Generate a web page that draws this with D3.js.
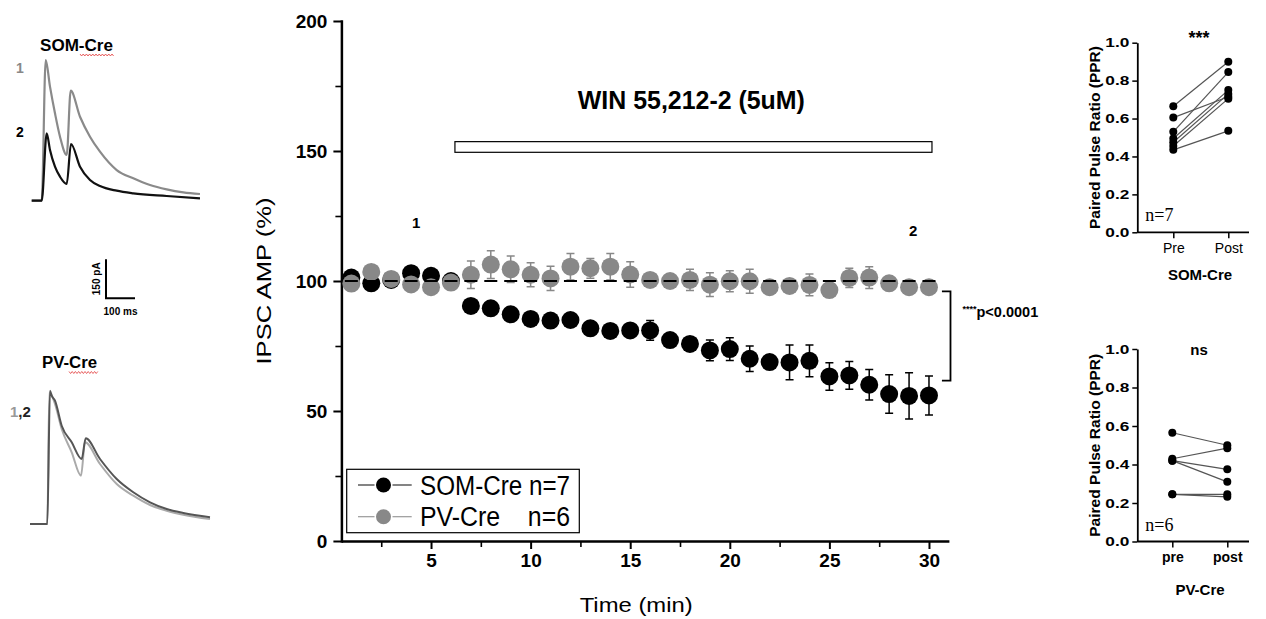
<!DOCTYPE html>
<html><head><meta charset="utf-8">
<script src="https://cdn.jsdelivr.net/npm/d3@7"></script>
<style>
body{margin:0;background:#fff;}
svg{display:block;}
</style></head><body>
<svg id="c" width="1266" height="619"></svg>
<script>
// ---------------- DATA ----------------
const minutes = [1,2,3,4,5,6,7,8,9,10,11,12,13,14,15,16,17,18,19,20,21,22,23,24,25,26,27,28,29,30];
const somMean = [101.3,99.1,100.4,103.0,102.0,100.0,90.4,89.5,87.2,85.4,84.8,85.0,81.8,80.8,81.0,81.0,77.3,75.8,73.3,73.8,70.1,68.8,68.7,69.3,63.3,63.7,60.1,56.5,55.8,56.0];
const somSem  = [1.5,1.5,1.5,1.5,1.5,1.5,1.5,1.5,1.5,1.5,1.5,2.0,1.5,1.5,2.0,3.8,1.5,1.5,4.0,4.4,4.9,2.5,6.7,6.1,5.3,5.3,5.9,7.4,8.9,7.5];
const pvMean  = [99.0,103.5,100.8,98.7,97.6,99.4,102.4,106.3,104.5,102.4,101.0,105.5,104.9,105.5,102.5,100.4,100.0,100.4,98.6,99.9,99.9,97.6,98.1,98.5,96.5,101.2,101.3,99.1,97.6,97.6];
const pvSem   = [1.5,1.5,1.5,1.5,1.5,1.5,5.3,5.3,5.1,4.6,4.7,5.1,3.8,5.1,4.9,2.0,2.0,4.1,4.6,4.0,4.6,2.0,2.0,4.2,2.0,3.7,4.2,2.0,2.0,2.0];
const seriesNames = ["SOM-Cre n=7", "PV-Cre\u00a0\u00a0\u00a0\u00a0n=6"];
const xTicks = [5,10,15,20,25,30];
const xMinorTicks = [2.5,7.5,12.5,17.5,22.5,27.5];
const yTicks = [0,50,100,150,200];
const yMinorTicks = [25,75,125,175];
const baselineLevel = [100];
const drugWindow = [6.2, 30.15];
const drugLevels = [149.5, 153.6];
const drugLabel = "WIN 55,212-2 (5uM)";
const sampleMarks = ["1", "2"];
const sampleTimes = [4.25, 29.2];
const bracketLevels = [96, 61.7];
const sigLabel = ["****", "p<0.0001"];

const pprTicks = [0, 0.2, 0.4, 0.6, 0.8, 1.0];
const somCats = ["Pre", "Post"];
const somPre  = [0.665, 0.605, 0.53, 0.495, 0.475, 0.455, 0.435];
const somPost = [0.90, 0.715, 0.845, 0.75, 0.73, 0.705, 0.535];
const pvCats = ["pre", "post"];
const pvPre  = [0.565, 0.43, 0.42, 0.42, 0.245, 0.245];
const pvPost = [0.50, 0.485, 0.375, 0.31, 0.245, 0.232];

// example traces: time (ms) and current (pA)
const somT1 = [0,34.5,48.3,63.1,80.3,97.6,120.7,134.5,166.6,201,235.5,293.1,350.3,407.9,465.5,522.8,580.3];
const somI1 = [0,0,541,438.8,336,246.2,175.8,423,323,246.2,188.5,118,86.2,60.4,43.8,32.3,25.8];
const somT2 = [0,34.5,51.7,63.1,80.3,97.6,120.7,135.5,166.6,201,235.5,293.1,350.3,465.5,580.3];
const somI2 = [0,0,259,195,131,92.3,64.2,218,130.8,79.6,56.5,38.5,28.5,18.1,9.2];
const pvT1 = [0,59.7,66.6,86.2,109.3,143.8,175.9,189.7,241.4,299,356.2,413.8,471.4,528.6,620.7];
const pvI1 = [0,0,506.5,461.5,365.4,275.8,185.8,314.2,230.8,153.8,108.8,73.1,51.2,35.8,19.2];
const pvT2 = [0,59.7,69,74.8,86.2,109.3,143.8,178.3,192.1,241.4,299,356.2,413.8,471.4,528.6,620.7];
const pvI2 = [0,0,512.7,493.5,474.2,378,314.2,250,329.6,250,173,122,83.5,57.7,42.3,25.8];
const scaleBarMs = 100, scaleBarPA = 150;

// ---------------- DRAW ----------------
const FONT = '"Liberation Sans", Arial, Helvetica, sans-serif';
const svg = d3.select("#c").attr("font-family", FONT);
svg.append("rect").attr("width",1266).attr("height",619).attr("fill","#fff");

const BLACK = "#000", GREY = "#888888";

// ===== main chart =====
const x = d3.scaleLinear().domain([0.5, 31]).range([341.4, 948.9]);
const y = d3.scaleLinear().domain([0, 200]).range([541, 21]);
const main = svg.append("g");

function styleAxis(g, fs){
  g.attr("font-family", FONT);
  g.selectAll("text").attr("font-size", fs).attr("font-weight","bold").attr("fill","#000");
}
const gx = main.append("g").attr("transform",`translate(0,${y(0)})`)
  .call(d3.axisBottom(x).tickValues(xTicks).tickSize(8).tickSizeOuter(0).tickPadding(5).tickFormat(d3.format("d")));
gx.select(".domain").attr("stroke-width",2.5);
gx.selectAll(".tick line").attr("stroke-width",2);
styleAxis(gx, 19);
const gxm = main.append("g").attr("transform",`translate(0,${y(0)})`)
  .call(d3.axisBottom(x).tickValues(xMinorTicks).tickSize(6).tickFormat(""));
gxm.select(".domain").remove(); gxm.selectAll(".tick line").attr("stroke-width",1.6);

const gy = main.append("g").attr("transform",`translate(${x(0.5)},0)`)
  .call(d3.axisLeft(y).tickValues(yTicks).tickSize(8).tickSizeOuter(0).tickPadding(6));
gy.select(".domain").attr("stroke-width",2.5).attr("stroke-linecap","square");
gy.selectAll(".tick line").attr("stroke-width",2);
styleAxis(gy, 19);
const gym = main.append("g").attr("transform",`translate(${x(0.5)},0)`)
  .call(d3.axisLeft(y).tickValues(yMinorTicks).tickSize(6).tickFormat(""));
gym.select(".domain").remove(); gym.selectAll(".tick line").attr("stroke-width",1.6);

main.append("text").attr("transform",`translate(271,${y(100)}) rotate(-90)`)
  .attr("text-anchor","middle").attr("font-size",21).attr("textLength",167).attr("lengthAdjust","spacingAndGlyphs")
  .text("IPSC AMP (%)");
main.append("text").attr("x", x(15.3)).attr("y", 612).attr("text-anchor","middle")
  .attr("font-size",21).attr("textLength",113).attr("lengthAdjust","spacingAndGlyphs").text("Time (min)");

// drug bar + label
main.append("rect").attr("x", x(drugWindow[0])).attr("y", y(drugLevels[1]))
  .attr("width", x(drugWindow[1]) - x(drugWindow[0])).attr("height", y(drugLevels[0]) - y(drugLevels[1]))
  .attr("fill","#fff").attr("stroke","#000").attr("stroke-width",1.2);
main.append("text").attr("x", x(18.07)).attr("y", y(166.2)).attr("text-anchor","middle")
  .attr("font-size",25).attr("font-weight","bold").attr("textLength",227).attr("lengthAdjust","spacingAndGlyphs").text(drugLabel);

// sample labels
main.selectAll("text.smp").data(sampleMarks).join("text").attr("class","smp")
  .attr("x",(d,i)=>x(sampleTimes[i])).attr("y",(d,i)=> i===0 ? y(120.4) : y(117.3))
  .attr("text-anchor","middle").attr("font-size",15).attr("font-weight","bold").text(d=>d);

// series
const series = [
  {mean: somMean, sem: somSem, color: BLACK},
  {mean: pvMean, sem: pvSem, color: GREY}
];
series.forEach(s=>{
  const g = main.append("g");
  const pts = minutes.map((m,i)=>({m, v:s.mean[i], e:s.sem[i]}));
  g.selectAll("path.eb").data(pts).join("path").attr("class","eb")
    .attr("d", d=>{
      const xc = x(d.m), y1 = y(d.v + d.e), y2 = y(d.v - d.e);
      return `M${xc},${y1}V${y2}M${xc-4},${y1}H${xc+4}M${xc-4},${y2}H${xc+4}`;
    }).attr("stroke", s.color).attr("stroke-width",1.5).attr("fill","none");
  g.selectAll("circle").data(pts).join("circle")
    .attr("cx", d=>x(d.m)).attr("cy", d=>y(d.v)).attr("r",9).attr("fill", s.color);
});

// dashed 100% line
const P = x(2) - x(1), dashLen = 13;
const startX = x(0.5);
const off = P - ((x(1) - dashLen/2) - startX);
main.append("line").attr("x1", startX).attr("x2", x(30.55)).attr("y1", y(baselineLevel[0])).attr("y2", y(baselineLevel[0]))
  .attr("stroke","#000").attr("stroke-width",2).attr("stroke-dasharray",`${dashLen},${P-dashLen}`).attr("stroke-dashoffset", off);

// bracket
const bx = x(30.65), bx2 = x(31.08);
main.append("path").attr("d", `M${bx},${y(bracketLevels[0])}H${bx2}V${y(bracketLevels[1])}H${bx}`)
  .attr("fill","none").attr("stroke","#000").attr("stroke-width",1.8);
const st = main.append("text").attr("x", 962.5).attr("y", 316.5).attr("font-weight","bold");
st.append("tspan").attr("font-size",9).attr("dy",-5).text(sigLabel[0]);
st.append("tspan").attr("font-size",14.5).attr("dy",5).text(sigLabel[1]);

// legend
const lg = main.append("g");
lg.append("rect").attr("x",346.7).attr("y",469.3).attr("width",232.6).attr("height",63.4)
  .attr("fill","#fff").attr("stroke","#000").attr("stroke-width",1.2);
const rows = [485, 516.7];
series.forEach((s,i)=>{
  const cy = rows[i];
  const lc = i ? "#999" : "#333";
  lg.append("line").attr("x1",358).attr("x2",374.5).attr("y1",cy).attr("y2",cy).attr("stroke", lc).attr("stroke-width",1.2);
  lg.append("line").attr("x1",392.5).attr("x2",411.7).attr("y1",cy).attr("y2",cy).attr("stroke", lc).attr("stroke-width",1.2);
  lg.append("circle").attr("cx",383.5).attr("cy",cy).attr("r",7.5).attr("fill", s.color);
  lg.append("text").attr("x",420).attr("y",cy+9.5).attr("font-size",27)
    .attr("textLength",150).attr("lengthAdjust","spacingAndGlyphs").text(seriesNames[i]);
});

// ===== PPR panels =====
function pprPanel(o){
  const g = svg.append("g");
  const yy = d3.scaleLinear().domain([0,1]).range([o.yBot, o.yTop]);
  const xx = d3.scalePoint().domain(o.cats).range([o.preX, o.postX]);
  const ga = g.append("g").attr("transform",`translate(${o.x0},0)`)
    .call(d3.axisLeft(yy).tickValues(pprTicks).tickSize(5).tickSizeOuter(0).tickPadding(3).tickFormat(d3.format(".1f")));
  ga.select(".domain").attr("stroke-width",1.8);
  ga.selectAll(".tick line").attr("stroke-width",1.5);
  ga.selectAll("text").attr("font-size",13).attr("font-weight","bold").attr("fill","#000")
    .attr("textLength",24).attr("lengthAdjust","spacingAndGlyphs").attr("font-family",FONT);
  const gb = g.append("g").attr("transform",`translate(0,${o.yBot})`)
    .call(d3.axisBottom(xx).tickSize(6).tickSizeOuter(0).tickPadding(5));
  gb.select(".domain").remove();
  gb.selectAll(".tick line").attr("stroke-width",1.5);
  gb.selectAll("text").attr("font-size",o.catSize).attr("font-weight",o.catWeight).attr("fill","#000").attr("font-family",FONT);
  g.append("line").attr("x1",o.x0).attr("x2",o.x1).attr("y1",o.yBot).attr("y2",o.yBot).attr("stroke","#000").attr("stroke-width",1.8);

  const pairs = o.pre.map((p,i)=>({a:p, b:o.post[i]}));
  g.selectAll("line.pair").data(pairs).join("line").attr("class","pair")
    .attr("x1", xx(o.cats[0])).attr("x2", xx(o.cats[1]))
    .attr("y1", d=>yy(d.a)).attr("y2", d=>yy(d.b)).attr("stroke","#555").attr("stroke-width",1.2);
  o.cats.forEach((c,ci)=>{
    g.selectAll(`circle.c${ci}`).data(ci? o.post : o.pre).join("circle").attr("class",`c${ci}`)
      .attr("cx", xx(c)).attr("cy", d=>yy(d)).attr("r",4).attr("fill","#000");
  });
  g.append("text").attr("transform",`translate(${o.x0-37},${(o.yTop+o.yBot)/2}) rotate(-90)`)
    .attr("text-anchor","middle").attr("font-size",14.5).attr("font-weight","bold")
    .attr("textLength",183).attr("lengthAdjust","spacingAndGlyphs").text("Paired Pulse Ratio (PPR)");
  g.append("text").attr("x",1199).attr("y",o.starY).attr("text-anchor","middle")
    .attr("font-size",o.starSize).attr("font-weight","bold").text(o.star);
  g.append("text").attr("x",1200).attr("y",o.nameY).attr("text-anchor","middle")
    .attr("font-size",15).attr("font-weight","bold").text(o.name);
  g.append("text").attr("x",o.x0+8).attr("y",o.nY).attr("font-size",18)
    .attr("font-family",'"Liberation Serif", "Times New Roman", serif').text(o.n);
}
pprPanel({x0:1137.3, x1:1249, yTop:42.7, yBot:232.3, preX:1173.3, postX:1228.3, cats:somCats,
  pre:somPre, post:somPost, star:"***", starY:44, starSize:18, name:"SOM-Cre", nameY:280, n:"n=7", nY:221,
  catSize:14, catWeight:"normal"});
pprPanel({x0:1137.3, x1:1249, yTop:349, yBot:541.5, preX:1172.3, postX:1227.3, cats:pvCats,
  pre:pvPre, post:pvPost, star:"ns", starY:355, starSize:15, name:"PV-Cre", nameY:595, n:"n=6", nY:531,
  catSize:14, catWeight:"bold"});

// ===== example traces =====
const tx = d3.scaleLinear().domain([0,100]).range([0,29]);
const ty = d3.scaleLinear().domain([0,150]).range([0,-39]);
const line = d3.line().x(d=>tx(d[0])).y(d=>ty(d[1])).curve(d3.curveMonotoneX);
function trace(ox, oy, T, I, color, w){
  svg.append("path").attr("transform",`translate(${ox},${oy})`)
    .attr("d", line(T.map((t,i)=>[t, I[i]]))).attr("fill","none").attr("stroke",color)
    .attr("stroke-width",w).attr("stroke-linejoin","round");
}
trace(31.7, 200.7, somT1, somI1, "#8a8a8a", 2.2);
trace(31.7, 200.7, somT2, somI2, "#111", 2.2);
trace(30, 524, pvT1, pvI1, "#aaaaaa", 2);
trace(30, 524, pvT2, pvI2, "#555555", 2);

// scale bar
const sb = svg.append("g").attr("transform","translate(106,298.3)");
sb.append("path").attr("d",`M0,${ty(scaleBarPA)}V0H${tx(scaleBarMs)}`).attr("fill","none").attr("stroke","#000").attr("stroke-width",2);
sb.append("text").attr("transform",`translate(-6,${ty(scaleBarPA)/2}) rotate(-90)`).attr("text-anchor","middle")
  .attr("font-size",10).attr("font-weight","bold").text(`${scaleBarPA}  pA`);
sb.append("text").attr("x", tx(scaleBarMs)/2).attr("y",17).attr("text-anchor","middle")
  .attr("font-size",10).attr("font-weight","bold").text(`${scaleBarMs} ms`);

// trace labels
function squiggle(x0, x1, y0){
  const pts = [];
  for(let xx=x0, k=0; xx<=x1; xx+=1.6, k++) pts.push([xx, y0 + (k%2 ? 1 : -1)]);
  svg.append("path").attr("d", d3.line()(pts)).attr("fill","none").attr("stroke","#e23a3a").attr("stroke-width",0.8);
}
svg.append("text").attr("x",40).attr("y",51).attr("font-size",16).attr("font-weight","bold")
  .attr("textLength",73).attr("lengthAdjust","spacingAndGlyphs").text("SOM-Cre");
squiggle(80, 114, 55);
svg.append("text").attr("x",20).attr("y",73).attr("text-anchor","middle").attr("font-size",14).attr("font-weight","bold").attr("fill","#888").text("1");
svg.append("text").attr("x",20).attr("y",137).attr("text-anchor","middle").attr("font-size",14).attr("font-weight","bold").attr("fill","#000").text("2");
svg.append("text").attr("x",42).attr("y",368).attr("font-size",16).attr("font-weight","bold")
  .attr("textLength",55).attr("lengthAdjust","spacingAndGlyphs").text("PV-Cre");
squiggle(69, 99, 372.5);
const t12 = svg.append("text").attr("x",10).attr("y",417).attr("font-size",15).attr("font-weight","bold");
t12.append("tspan").attr("fill","#999").text("1");
t12.append("tspan").attr("fill","#222").text(",2");
</script>
</body></html>
